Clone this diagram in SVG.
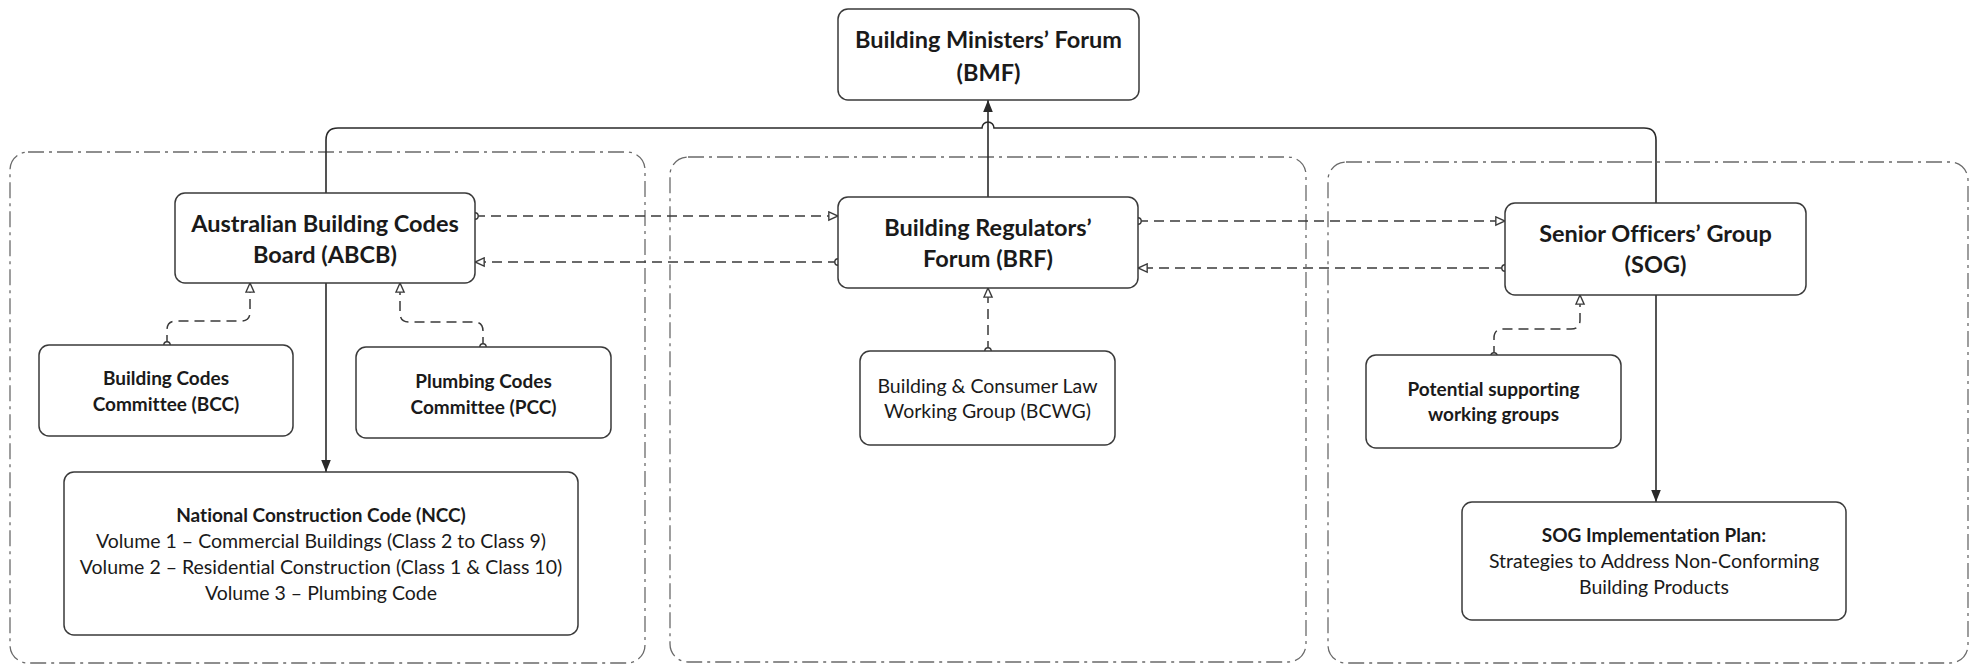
<svg xmlns="http://www.w3.org/2000/svg" width="1972" height="672" viewBox="0 0 1972 672">
<defs>
<style>
.grp{fill:none;stroke:#6a6a6a;stroke-width:1.3;stroke-dasharray:16 5 3 5}
.node{fill:#fff;stroke:#3a3a3a;stroke-width:1.5}
.solid{fill:none;stroke:#2a2a2a;stroke-width:1.6}
.dash{fill:none;stroke:#3a3a3a;stroke-width:1.5;stroke-dasharray:10 6}
text{font-family:Lato,"Liberation Sans",sans-serif;fill:#1a1a1a;text-anchor:middle;dominant-baseline:central;font-variant-ligatures:none}
.b{font-weight:bold}
.t22{font-size:23.5px}
.t18{font-size:19px}
.r18{font-size:19.5px}
</style>
<marker id="fa" markerUnits="userSpaceOnUse" markerWidth="12" markerHeight="12" viewBox="0 0 10 10" refX="10" refY="5" orient="auto">
<path d="M0,1 L10,5 L0,9 z" fill="#2a2a2a"/>
</marker>
<marker id="ha" markerUnits="userSpaceOnUse" markerWidth="11" markerHeight="11" viewBox="0 0 12 12" refX="11" refY="6" orient="auto">
<path d="M1,1.5 L11,6 L1,10.5 z" fill="#fff" stroke="#3a3a3a" stroke-width="1.5"/>
</marker>
<marker id="ci" markerUnits="userSpaceOnUse" markerWidth="10" markerHeight="10" viewBox="0 0 10 10" refX="5" refY="5" orient="auto">
<circle cx="5" cy="5" r="3.2" fill="#fff" stroke="#3a3a3a" stroke-width="1.4"/>
</marker>
</defs>
<rect width="1972" height="672" fill="#fff"/>

<g id="groups">
<rect id="grp-left" class="grp" x="10" y="152" width="635" height="511" rx="18"/>
<rect id="grp-mid" class="grp" x="670" y="157" width="636" height="505" rx="18"/>
<rect id="grp-right" class="grp" x="1328" y="162" width="640" height="501" rx="18"/>
</g>

<g id="connectors">
<path class="solid" d="M326,193 V140 Q326,128 338,128 H982 A6,6 0 0 1 994,128 H1644 Q1656,128 1656,140 V203"/>
<path class="solid" d="M988,197 V100" marker-end="url(#fa)"/>
<path class="solid" d="M326,283 V472" marker-end="url(#fa)"/>
<path class="solid" d="M1656,295 V502" marker-end="url(#fa)"/>
<path class="dash" d="M475,216 H838" marker-start="url(#ci)" marker-end="url(#ha)"/>
<path class="dash" d="M838,262 H475" marker-start="url(#ci)" marker-end="url(#ha)"/>
<path class="dash" d="M1138,221 H1505" marker-start="url(#ci)" marker-end="url(#ha)"/>
<path class="dash" d="M1505,268 H1138" marker-start="url(#ci)" marker-end="url(#ha)"/>
<path class="dash" d="M167,345 V330 Q167,321 176,321 H241 Q250,321 250,312 V283" marker-start="url(#ci)" marker-end="url(#ha)"/>
<path class="dash" d="M483,347 V331 Q483,322 474,322 H409 Q400,322 400,313 V283" marker-start="url(#ci)" marker-end="url(#ha)"/>
<path class="dash" d="M988,351 V288" marker-start="url(#ci)" marker-end="url(#ha)"/>
<path class="dash" d="M1494,356 V338 Q1494,329 1503,329 H1571 Q1580,329 1580,320 V295" marker-start="url(#ci)" marker-end="url(#ha)"/>
</g>

<g id="bmf">
<rect class="node" x="838" y="9" width="301" height="91" rx="10"/>
<text class="b t22" x="988.5" y="39">Building Ministers’ Forum</text>
<text class="b t22" x="988.5" y="72">(BMF)</text>
</g>

<g id="abcb">
<rect class="node" x="175" y="193" width="300" height="90" rx="10"/>
<text class="b t22" x="325" y="223">Australian Building Codes</text>
<text class="b t22" x="325" y="254">Board (ABCB)</text>
</g>

<g id="brf">
<rect class="node" x="838" y="197" width="300" height="91" rx="10"/>
<text class="b t22" x="988" y="227">Building Regulators’</text>
<text class="b t22" x="988" y="258">Forum (BRF)</text>
</g>

<g id="sog">
<rect class="node" x="1505" y="203" width="301" height="92" rx="10"/>
<text class="b t22" x="1655.5" y="233">Senior Officers’ Group</text>
<text class="b t22" x="1655.5" y="264">(SOG)</text>
</g>

<g id="bcc">
<rect class="node" x="39" y="345" width="254" height="91" rx="10"/>
<text class="b t18" x="166" y="377">Building Codes</text>
<text class="b t18" x="166" y="403">Committee (BCC)</text>
</g>

<g id="pcc">
<rect class="node" x="356" y="347" width="255" height="91" rx="10"/>
<text class="b t18" x="483.5" y="380">Plumbing Codes</text>
<text class="b t18" x="483.5" y="406">Committee (PCC)</text>
</g>

<g id="ncc">
<rect class="node" x="64" y="472" width="514" height="163" rx="10"/>
<text class="b t18" x="321" y="514">National Construction Code (NCC)</text>
<text class="r18" x="321" y="540">Volume 1 – Commercial Buildings (Class 2 to Class 9)</text>
<text class="r18" x="321" y="566">Volume 2 – Residential Construction (Class 1 &amp; Class 10)</text>
<text class="r18" x="321" y="592">Volume 3 – Plumbing Code</text>
</g>

<g id="bcwg">
<rect class="node" x="860" y="351" width="255" height="94" rx="10"/>
<text class="r18" x="987.5" y="385">Building &amp; Consumer Law</text>
<text class="r18" x="987.5" y="410">Working Group (BCWG)</text>
</g>

<g id="pswg">
<rect class="node" x="1366" y="355" width="255" height="93" rx="10"/>
<text class="b t18" x="1493.5" y="388">Potential supporting</text>
<text class="b t18" x="1493.5" y="413">working groups</text>
</g>

<g id="sogip">
<rect class="node" x="1462" y="502" width="384" height="118" rx="10"/>
<text class="b t18" x="1654" y="534">SOG Implementation Plan:</text>
<text class="r18" x="1654" y="560">Strategies to Address Non-Conforming</text>
<text class="r18" x="1654" y="586">Building Products</text>
</g>
</svg>
